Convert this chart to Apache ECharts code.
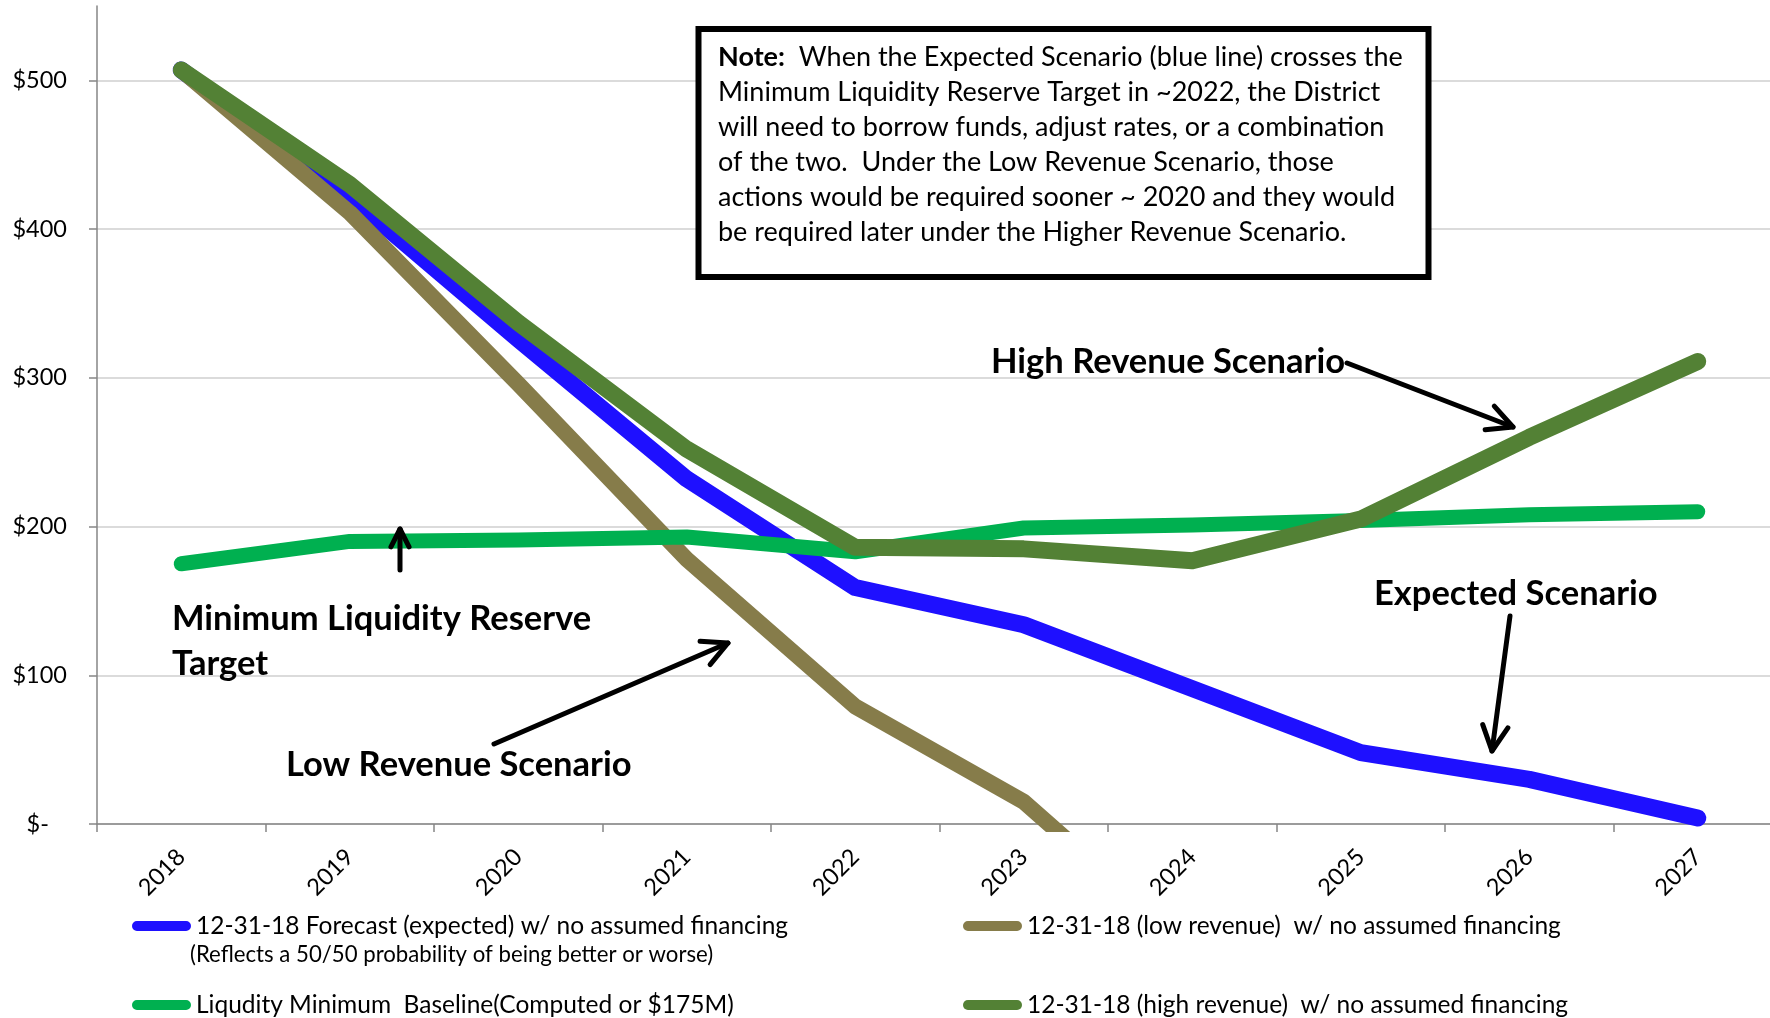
<!DOCTYPE html>
<html>
<head>
<meta charset="utf-8">
<script src="https://cdn.jsdelivr.net/npm/echarts@6/dist/echarts.min.js"></script>
<style>
  html, body { margin: 0; padding: 0; background: #fff; }
  #chart { width: 1770px; height: 1018px; }
</style>
</head>
<body>
<div id="chart"></div>
<script>
// years on the x axis
const years = ['2018', '2019', '2020', '2021', '2022', '2023', '2024', '2025', '2026', '2027']
// values in $M
const expected = [507, 422, 326, 232, 159, 134, 91, 48, 30, 4]
const lowRevenue = [507, 411, 296, 178, 79, 15, -85, null, null, null]
const baseline = [175, 190, 191, 193, 183, 199, 201, 204, 208, 210]
const highRevenue = [507, 430, 337, 252, 186, 185, 177, 205, 260, 311]
const yTicks = [0, 100, 200, 300, 400, 500]

const names = [
  '12-31-18 Forecast (expected) w/ no assumed financing',
  '12-31-18 (low revenue)  w/ no assumed financing',
  'Liqudity Minimum  Baseline(Computed or $175M)',
  '12-31-18 (high revenue)  w/ no assumed financing'
]
const colors = ['#1e10ff', '#867c4a', '#00b050', '#538135']
const widths = [17, 16, 15, 17]

const FONT = 'Lato'
const pill = 'path://M5,0L55,0A5,5,0,0,1,55,10L5,10A5,5,0,0,1,5,0Z'

// arrow helper (shaft + open head)
function arrow(x1, y1, x2, y2, len) {
  const a = Math.atan2(y2 - y1, x2 - x1), s = 0.47
  const p1 = [x2 - len * Math.cos(a - s), y2 - len * Math.sin(a - s)]
  const p2 = [x2 - len * Math.cos(a + s), y2 - len * Math.sin(a + s)]
  return [
    {type: 'line', z: 100, shape: {x1, y1, x2, y2}, style: {stroke: '#000', lineWidth: 5, lineCap: 'round'}},
    {type: 'polyline', z: 100, shape: {points: [p1, [x2, y2], p2]}, style: {stroke: '#000', fill: null, lineWidth: 5, lineCap: 'round', lineJoin: 'round'}}
  ]
}

function label(text, x, y) {
  return {
    type: 'text', z: 100, x, y,
    style: {text, fill: '#000', font: 'bold 34.5px ' + FONT, verticalAlign: 'middle', lineHeight: 45}
  }
}

const noteText = '{b|Note:}  When the Expected Scenario (blue line) crosses the\n' +
  'Minimum Liquidity Reserve Target in ~2022, the District\n' +
  'will need to borrow funds, adjust rates, or a combination\n' +
  'of the two.  Under the Low Revenue Scenario, those\n' +
  'actions would be required sooner ~ 2020 and they would\n' +
  'be required later under the Higher Revenue Scenario.'

const chart = echarts.init(document.getElementById('chart'))

const legendItem = (i, left, top) => ({
  data: [names[i]], left, top, padding: 0,
  icon: pill, itemWidth: 59, itemHeight: 10,
  selectedMode: false,
  textStyle: {fontFamily: FONT, fontSize: 24.5, color: '#000', lineHeight: 28}
})

const option = {
  animation: false,
  backgroundColor: '#fff',
  grid: {left: 97, top: 6, width: 1685, height: 818, outerBoundsMode: 'none'},
  xAxis: {
    type: 'category',
    data: years,
    boundaryGap: true,
    axisLine: {lineStyle: {color: '#868686', width: 1.5}},
    axisTick: {show: true, length: 8, lineStyle: {color: '#868686', width: 1.5}},
    axisLabel: {rotate: 45, margin: 29, fontFamily: FONT, fontSize: 23.5, color: '#000'}
  },
  yAxis: {
    type: 'value',
    min: 0, max: 550, interval: 100,
    axisLine: {show: true, lineStyle: {color: '#868686', width: 1.5}},
    axisTick: {show: true, length: 8, customValues: yTicks, lineStyle: {color: '#868686', width: 1.5}},
    splitLine: {show: true, lineStyle: {color: '#cfcfcf', width: 1.5}},
    axisLabel: {
      customValues: yTicks,
      margin: 30,
      fontFamily: FONT, fontSize: 23.5, color: '#000',
      formatter: v => v === 0 ? '$-   ' : '$' + v
    }
  },
  legend: [
    legendItem(0, 132, 912),
    legendItem(1, 963, 912),
    legendItem(2, 132, 991),
    legendItem(3, 963, 991)
  ],
  series: [expected, lowRevenue, baseline, highRevenue].map((d, i) => ({
    name: names[i],
    type: 'line',
    data: d,
    color: colors[i],
    showSymbol: false,
    symbol: 'none',
    z: 2 + i,
    lineStyle: {width: widths[i], color: colors[i], cap: 'round', join: 'round'}
  })),
  graphic: [
    // note box
    {type: 'rect', z: 100, shape: {x: 698.5, y: 29, width: 730, height: 248},
      style: {fill: '#fff', stroke: '#000', lineWidth: 6}},
    {type: 'text', z: 101, x: 718, y: 40,
      style: {
        text: noteText, fill: '#000', font: '27px ' + FONT, lineHeight: 35, verticalAlign: 'top',
        rich: {b: {font: 'bold 27px ' + FONT, lineHeight: 35}}
      }},
    // subtitle under the first legend entry
    {type: 'text', z: 100, x: 190, y: 955,
      style: {text: '(Reflects a 50/50 probability of being better or worse)', fill: '#000',
        font: '22.2px ' + FONT, verticalAlign: 'middle'}},
    label('High Revenue Scenario', 991, 362),
    label('Expected Scenario', 1374, 594),
    label('Minimum Liquidity Reserve\nTarget', 172, 641),
    label('Low Revenue Scenario', 286, 765),
    ...arrow(1347, 363, 1513, 427, 28),
    ...arrow(1510, 616, 1492, 751, 28),
    ...arrow(400, 570, 400, 529, 20),
    ...arrow(494, 744, 728, 643, 28)
  ]
}

chart.setOption(option)
</script>
</body>
</html>
